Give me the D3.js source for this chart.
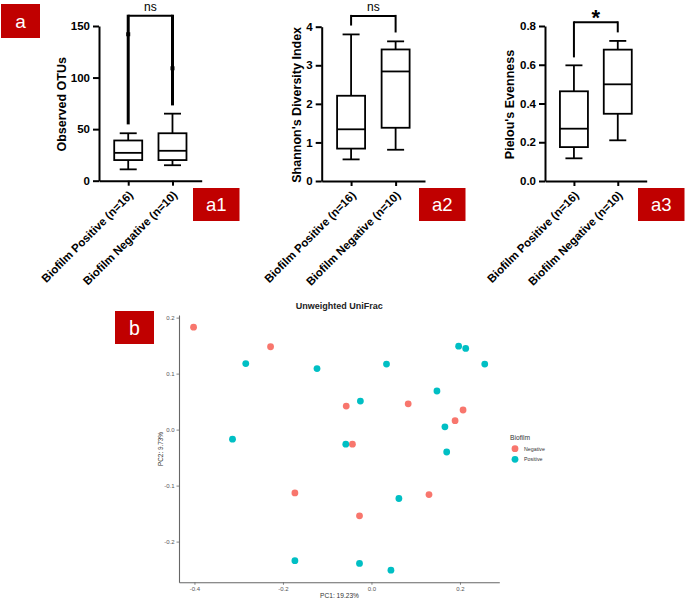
<!DOCTYPE html>
<html><head><meta charset="utf-8">
<script src="https://cdn.jsdelivr.net/npm/d3@7"></script>
<style>body{margin:0;background:#fff} svg{display:block}</style>
</head><body><svg id="c" width="685" height="602"></svg>
<script>
// ---------- data ----------
const groupLabels = ["Biofilm Positive (n=16)", "Biofilm Negative (n=10)"];
// five-number summaries [min whisker, Q1, median, Q3, max whisker]
const observedOTUs = [[11, 20, 27, 39, 46], [15, 20, 29, 46, 65]];
const observedOTUsOutliers = [[142], [109]];
const shannonIndex = [[0.56, 0.84, 1.34, 2.21, 3.80], [0.81, 1.38, 2.84, 3.41, 3.62]];
const pielouEvenness = [[0.117, 0.175, 0.270, 0.463, 0.597], [0.210, 0.347, 0.499, 0.678, 0.723]];
const otuTicks = [0, 50, 100, 150];
const shannonTicks = [0, 1, 2, 3, 4];
const pielouTicks = [0, 0.2, 0.4, 0.6, 0.8];
const significance = ["ns", "ns", "*"];
const bracketTops = [160, 4.28, 0.819];
const bracketLegEnds = [[54.6, 73], [4.03, 3.85], [0.638, 0.767]];
const panelTags = ["a1", "a2", "a3"];

const pcoaNegative = [[-0.402, 0.183], [-0.228, 0.148], [-0.057, 0.042], [-0.043, -0.026], [0.083, 0.046],
  [0.207, 0.035], [0.189, 0.016], [0.130, -0.116], [-0.173, -0.113], [-0.027, -0.154]];
const pcoaPositive = [[-0.284, 0.118], [-0.123, 0.109], [0.034, 0.117], [-0.025, 0.051], [-0.314, -0.017],
  [-0.058, -0.026], [0.197, 0.149], [0.213, 0.145], [0.256, 0.117], [0.148, 0.069], [0.166, 0.005],
  [0.170, -0.040], [0.062, -0.123], [0.044, -0.251], [-0.173, -0.234], [-0.027, -0.239]];
const pcoaXTicks = [-0.4, -0.2, 0.0, 0.2];
const pcoaYTicks = [-0.2, -0.1, 0.0, 0.1, 0.2];
const legendLabels = ["Negative", "Positive"];

// ---------- drawing ----------
const FONT = "'Liberation Sans', Arial, sans-serif";
const svg = d3.select("#c").style("font-family", FONT);
svg.append("rect").attr("width", 685).attr("height", 602).attr("fill", "#fff");

function tag(x, y, w, h, label, fs) {
  svg.append("rect").attr("x", x).attr("y", y).attr("width", w).attr("height", h).attr("fill", "#C00000");
  svg.append("text").attr("x", x + w / 2).attr("y", y + h / 2).attr("dy", "0.36em")
    .attr("text-anchor", "middle").attr("fill", "#fff").attr("font-size", fs).text(label);
}

const panels = [
  {stats: observedOTUs, outliers: observedOTUsOutliers, ticks: otuTicks, fmt: d3.format("d"),
   title: "Observed OTUs", x0: 99, x1: 201.7, yTop: 26, yBot: 180.7, titleX: 61, legW: 3, tagX: 193},
  {stats: shannonIndex, outliers: [[], []], ticks: shannonTicks, fmt: d3.format("d"),
   title: "Shannon's Diversity Index", x0: 321.7, x1: 425, yTop: 26.7, yBot: 181, titleX: 296, legW: 2, tagX: 419},
  {stats: pielouEvenness, outliers: [[], []], ticks: pielouTicks, fmt: d3.format(".1f"),
   title: "Pielou's Evenness", x0: 545, x1: 646.7, yTop: 26, yBot: 181, titleX: 509, legW: 2, tagX: 638}
];

panels.forEach((p, i) => {
  const g = svg.append("g");
  const x = d3.scalePoint().domain(groupLabels).range([p.x0, p.x1]).padding(0.66);
  const y = d3.scaleLinear().domain([0, d3.max(p.ticks)]).range([p.yBot, p.yTop]);

  // y axis
  const ya = g.append("g").attr("transform", `translate(${p.x0},0)`)
    .call(d3.axisLeft(y).tickValues(p.ticks).tickFormat(p.fmt).tickSize(6).tickSizeOuter(0).tickPadding(3));
  ya.select(".domain").attr("stroke", "#000").attr("stroke-width", 2);
  ya.selectAll(".tick line").attr("stroke", "#000").attr("stroke-width", 2);
  ya.selectAll(".tick text").attr("font-size", 11.5).attr("font-weight", "bold").attr("fill", "#000")
    .attr("font-family", FONT);

  // x axis
  const xa = g.append("g").attr("transform", `translate(0,${p.yBot})`)
    .call(d3.axisBottom(x).tickSize(5).tickSizeOuter(0));
  xa.select(".domain").attr("stroke", "#000").attr("stroke-width", 2);
  xa.selectAll(".tick line").attr("stroke", "#000").attr("stroke-width", 2);
  xa.selectAll(".tick text").attr("font-size", 11.5).attr("font-weight", "bold").attr("fill", "#000")
    .attr("font-family", FONT).attr("text-anchor", "end").attr("y", 0).attr("dy", 0)
    .attr("transform", "translate(5,15) rotate(-45)");

  // boxes
  const bw = 28, cw = 17;
  p.stats.forEach((s, k) => {
    const cx = x(groupLabels[k]);
    const bg = g.append("g").attr("stroke", "#000").attr("stroke-width", 1.8).attr("fill", "none");
    bg.append("line").attr("x1", cx).attr("x2", cx).attr("y1", y(s[0])).attr("y2", y(s[1]));
    bg.append("line").attr("x1", cx).attr("x2", cx).attr("y1", y(s[3])).attr("y2", y(s[4]));
    bg.append("line").attr("x1", cx - cw / 2).attr("x2", cx + cw / 2).attr("y1", y(s[0])).attr("y2", y(s[0]));
    bg.append("line").attr("x1", cx - cw / 2).attr("x2", cx + cw / 2).attr("y1", y(s[4])).attr("y2", y(s[4]));
    bg.append("rect").attr("x", cx - bw / 2).attr("width", bw).attr("y", y(s[3])).attr("height", y(s[1]) - y(s[3]))
      .attr("fill", "#fff");
    bg.append("line").attr("x1", cx - bw / 2).attr("x2", cx + bw / 2).attr("y1", y(s[2])).attr("y2", y(s[2]));
    p.outliers[k].forEach(v => {
      g.append("rect").attr("x", cx - 2).attr("y", y(v) - 2).attr("width", 4).attr("height", 4).attr("fill", "#000");
    });
  });

  // bracket
  const xl = x(groupLabels[0]), xr = x(groupLabels[1]), yt = y(bracketTops[i]);
  g.append("line").attr("x1", xl).attr("x2", xr).attr("y1", yt).attr("y2", yt).attr("stroke", "#000").attr("stroke-width", 2);
  g.append("line").attr("x1", xl).attr("x2", xl).attr("y1", yt - 1).attr("y2", y(bracketLegEnds[i][0]))
    .attr("stroke", "#000").attr("stroke-width", p.legW);
  g.append("line").attr("x1", xr).attr("x2", xr).attr("y1", yt - 1).attr("y2", y(bracketLegEnds[i][1]))
    .attr("stroke", "#000").attr("stroke-width", p.legW);
  const star = significance[i] === "*";
  g.append("text").attr("x", (xl + xr) / 2).attr("y", star ? yt + 3 : 11)
    .attr("text-anchor", "middle").attr("font-size", star ? 22 : 12).attr("font-weight", star ? "bold" : "normal")
    .text(significance[i]);

  // y title
  g.append("text").attr("transform", `translate(${p.titleX},${(p.yTop + p.yBot) / 2 + 1}) rotate(-90)`)
    .attr("text-anchor", "middle").attr("dy", "0.36em").attr("font-size", 12.5).attr("font-weight", "bold")
    .text(p.title);

  tag(p.tagX, 188, 46.5, 33, panelTags[i], 18.5);
});

tag(1, 4, 39, 34, "a", 19);
tag(115, 311, 39, 33, "b", 19.5);

// ---------- PCoA scatter ----------
const allPts = pcoaNegative.concat(pcoaPositive);
function expand(ext) { const d = ext[1] - ext[0]; return [ext[0] - 0.05 * d, ext[1] + 0.05 * d]; }
const sx = d3.scaleLinear().domain(expand(d3.extent(allPts, d => d[0]))).range([179, 499.3]);
const sy = d3.scaleLinear().domain(expand(d3.extent(allPts, d => d[1]))).range([582.3, 315]);
const colors = d3.scaleOrdinal().domain(legendLabels).range(["#F8766D", "#00BFC4"]);

const sg = svg.append("g");
const sxa = sg.append("g").attr("transform", "translate(0,582.3)")
  .call(d3.axisBottom(sx).tickValues(pcoaXTicks).tickFormat(d => d.toFixed(1)).tickSize(2.5).tickSizeOuter(0).tickPadding(2));
const sya = sg.append("g").attr("transform", "translate(179,0)")
  .call(d3.axisLeft(sy).tickValues(pcoaYTicks).tickFormat(d => d.toFixed(1)).tickSize(2.5).tickSizeOuter(0).tickPadding(2));
[sxa, sya].forEach(a => {
  a.select(".domain").attr("stroke", "#666").attr("stroke-width", 1.1);
  a.selectAll(".tick line").attr("stroke", "#666").attr("stroke-width", 0.8);
  a.selectAll(".tick text").attr("font-size", 6).attr("fill", "#555").attr("font-family", FONT);
});

sg.selectAll("circle.neg").data(pcoaNegative).join("circle").attr("class", "neg")
  .attr("cx", d => sx(d[0])).attr("cy", d => sy(d[1])).attr("r", 3.4).attr("fill", colors("Negative"));
sg.selectAll("circle.pos").data(pcoaPositive).join("circle").attr("class", "pos")
  .attr("cx", d => sx(d[0])).attr("cy", d => sy(d[1])).attr("r", 3.4).attr("fill", colors("Positive"));

sg.append("text").attr("x", 339.2).attr("y", 309.3).attr("text-anchor", "middle").attr("font-size", 9)
  .attr("font-weight", "bold").attr("fill", "#222").text("Unweighted UniFrac");
sg.append("text").attr("x", 339.5).attr("y", 598).attr("text-anchor", "middle").attr("font-size", 6.6)
  .attr("fill", "#333").text("PC1: 19.23%");
sg.append("text").attr("transform", "translate(163.3,449) rotate(-90)").attr("text-anchor", "middle")
  .attr("font-size", 6.4).attr("fill", "#333").text("PC2: 9.73%");

// legend
const lg = sg.append("g");
lg.append("text").attr("x", 510).attr("y", 439.5).attr("font-size", 6.7).attr("fill", "#333").text("Biofilm");
legendLabels.forEach((l, k) => {
  const yy = 448.7 + k * 10.6;
  lg.append("circle").attr("cx", 515).attr("cy", yy).attr("r", 3.4).attr("fill", colors(l));
  lg.append("text").attr("x", 524).attr("y", yy + 1.9).attr("font-size", 5.3).attr("fill", "#333").text(l);
});
</script></body></html>
